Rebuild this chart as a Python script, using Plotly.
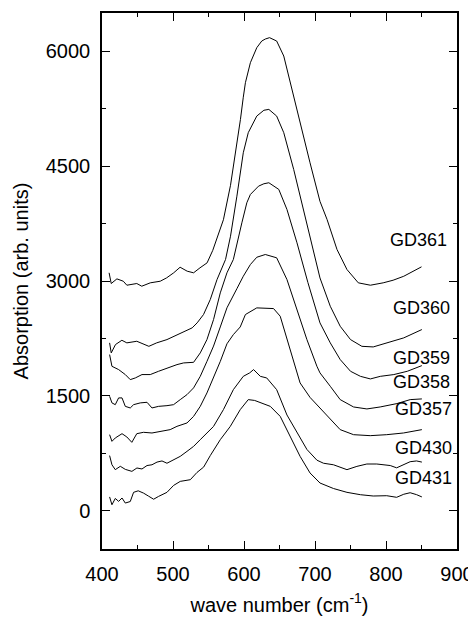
import plotly.graph_objects as go

# ---------------- data ----------------
gd361_x = [410, 413, 421, 430, 435, 449, 456, 468, 482, 491, 501, 510, 520, 529, 538, 548, 556, 562,
           571, 581, 585, 590, 595, 599, 602, 609, 618, 625, 630, 636, 639, 646, 656, 665, 679, 693,
           707, 717, 731, 745, 761, 778, 796, 810, 825, 850]
gd361_y = [3107, 2967, 3028, 2997, 2945, 2967, 2932, 2976, 2997, 3041, 3107, 3180, 3128, 3107, 3172,
           3237, 3400, 3560, 3800, 4250, 4480, 4806, 5110, 5400, 5590, 5851, 6047, 6134, 6160, 6178,
           6165, 6134, 5938, 5590, 5067, 4544, 4040, 3803, 3411, 3150, 2976, 2945, 2976, 3010, 3062, 3185]

gd360_x = [410.7, 413, 419, 428, 435, 449, 466, 477, 491.5, 506, 515, 527, 534, 543, 552.5, 562, 574,
           581, 590, 599, 606, 618, 628, 635, 646, 656, 670, 684, 698, 707, 721.5, 735.5, 750, 766,
           782, 801, 825, 850.5]
gd360_y = [2192, 2061, 2170, 2226, 2192, 2213, 2147, 2192, 2235, 2300, 2343, 2388, 2453, 2562, 2758,
           3019, 3281, 3585, 4108, 4675, 4937, 5154, 5230, 5241, 5154, 4937, 4457, 3934, 3411, 3040,
           2670, 2409, 2235, 2147, 2139, 2192, 2257, 2366]

gd359_x = [410.7, 414, 423.4, 432.8, 439.8, 446.9, 456.3, 468, 479.7, 491.5, 505.6, 514.9, 529, 538.4,
           547.8, 557.1, 566.6, 576, 585, 597, 604, 609, 620.5, 628, 635, 649, 660.5, 674.6, 690, 707,
           721.5, 735.5, 750, 764, 778, 792, 811, 830, 850.5]
gd359_y = [2039, 1886, 1843, 1778, 1712, 1734, 1778, 1778, 1821, 1865, 1908, 1930, 1938, 2061, 2235,
           2496, 2845, 3107, 3281, 3760, 4022, 4130, 4239, 4270, 4283, 4196, 3934, 3499, 2980, 2453,
           2192, 1974, 1821, 1755, 1721, 1755, 1778, 1821, 1895]

gd358_x = [410.7, 414, 418.7, 423.4, 428.2, 432.8, 439.8, 444.5, 453.9, 463.4, 470.4, 479.7, 491.5,
           500.8, 510.2, 519.7, 529, 538.4, 547.8, 557.1, 566.6, 576, 590, 599, 609, 618, 630, 646,
           660.5, 674.6, 688.6, 702.7, 707, 721.5, 735.5, 754.3, 773.1, 791.8, 815.4, 834.1, 850.5]
gd358_y = [1494, 1408, 1385, 1473, 1473, 1363, 1342, 1385, 1408, 1416, 1342, 1363, 1372, 1385, 1451,
           1516, 1604, 1755, 1950, 2150, 2400, 2650, 2900, 3062, 3215, 3310, 3346, 3303, 3019, 2627,
           2235, 1886, 1800, 1625, 1451, 1355, 1329, 1355, 1399, 1451, 1460]

gd357_x = [410.7, 414, 418.7, 428.2, 435, 442, 449, 458.5, 470.4, 482, 496, 505.6, 519.7, 529, 538.4,
           547.8, 557.1, 566.6, 576, 585, 594.7, 602, 618, 632, 641.6, 651, 665, 679, 693, 707, 721.5,
           735.5, 754.3, 777.8, 801, 824.6, 850.5]
gd357_y = [993, 906, 950, 1006, 963, 893, 1006, 1024, 1015, 1037, 1059, 1102, 1146, 1232, 1363, 1538,
           1740, 1950, 2180, 2300, 2400, 2562, 2649, 2649, 2640, 2540, 2104, 1669, 1480, 1342, 1189,
           1059, 993, 980, 993, 1015, 1059]

gd430_x = [410.7, 414, 418.7, 425.8, 432.8, 442.1, 449.2, 456.3, 463.4, 470.4, 477.5, 484.5, 491.5,
           500.8, 510.2, 519.7, 529, 538.4, 547.8, 557, 571, 585, 599, 608, 613.5, 623, 632, 646,
           660.5, 674.6, 688.6, 702.7, 712, 726, 745, 759, 773, 787, 806, 815, 825, 834, 843, 850.5]
gd430_y = [720, 600, 536, 580, 540, 514, 558, 545, 590, 600, 635, 650, 620, 667, 710, 775, 840, 928,
           1015, 1100, 1320, 1581, 1755, 1800, 1843, 1755, 1734, 1581, 1250, 1015, 800, 660, 620, 600,
           536, 579, 610, 610, 590, 560, 600, 640, 650, 635]

gd431_x = [410.7, 414, 418.7, 423.4, 428.2, 432.8, 439.8, 444.5, 451, 458.5, 465.6, 472.7, 479.7, 491.5,
           500.8, 510.2, 524.4, 533.8, 543.2, 552.5, 566.6, 580.6, 594.7, 606, 615, 625, 637, 651, 665,
           679, 693, 702.7, 707, 726, 745, 764, 782, 801, 815, 825, 834, 843, 850.5]
gd431_y = [180, 78, 160, 122, 166, 100, 120, 240, 260, 230, 190, 150, 187, 240, 330, 383, 405, 500, 570,
           720, 928, 1100, 1320, 1451, 1440, 1408, 1363, 1232, 971, 710, 493, 405, 362, 290, 240, 209,
           192, 196, 175, 215, 235, 210, 180]

series_x = [gd361_x, gd360_x, gd359_x, gd358_x, gd357_x, gd430_x, gd431_x]
series_y = [gd361_y, gd360_y, gd359_y, gd358_y, gd357_y, gd430_y, gd431_y]

label_text = ["GD361", "GD360", "GD359", "GD358", "GD357", "GD430", "GD431"]
label_x = [846, 849.5, 850.5, 850.5, 853, 853, 853]
label_y = [3533, 2649, 2000, 1686, 1325, 825, 422]

x_ticks = [400, 500, 600, 700, 800, 900]
y_ticks = [0, 1500, 3000, 4500, 6000]

# ---------------- figure ----------------
FONT = "Liberation Sans, Arial, sans-serif"
fig = go.Figure()
for xs, ys, name in zip(series_x, series_y, label_text):
    fig.add_trace(go.Scatter(x=xs, y=ys, mode="lines", name=name,
                             line=dict(color="black", width=1), showlegend=False,
                             hoverinfo="skip"))

for t, lx, ly in zip(label_text, label_x, label_y):
    fig.add_annotation(x=lx, y=ly, text=t, showarrow=False, xanchor="center", yanchor="middle",
                       font=dict(family=FONT, size=18, color="black"))

axis_common = dict(showline=True, linecolor="black", linewidth=1.5, mirror="allticks",
                   ticks="inside", ticklen=8, tickwidth=1.3, tickcolor="black",
                   showgrid=False, zeroline=False,
                   tickfont=dict(family=FONT, size=20, color="black"))

fig.update_xaxes(range=[400, 900], tickvals=x_ticks, ticktext=[str(v) for v in x_ticks],
                 minor=dict(dtick=50, tick0=400, ticks="inside", ticklen=4, tickcolor="black",
                            tickwidth=1.3, showgrid=False),
                 title=dict(text="wave number (cm<sup>-1</sup>)",
                            font=dict(family=FONT, size=20, color="black"), standoff=14),
                 ticklabelstandoff=6,
                 **axis_common)
fig.update_yaxes(range=[-500, 6500], tickvals=y_ticks, ticktext=[str(v) for v in y_ticks],
                 minor=dict(dtick=750, tick0=0, ticks="inside", ticklen=4, tickcolor="black",
                            tickwidth=1.3, showgrid=False),
                 title=dict(text="Absorption (arb. units)",
                            font=dict(family=FONT, size=20, color="black"), standoff=12),
                 ticklabelstandoff=6,
                 **axis_common)

# the page body has an 8px margin, so the figure is placed to compensate
fig.update_layout(width=468, height=613, margin=dict(l=94, r=19, t=5, b=72, autoexpand=False),
                  plot_bgcolor="white", paper_bgcolor="white",
                  font=dict(family=FONT, color="black"))

fig.write_html("out.html")
